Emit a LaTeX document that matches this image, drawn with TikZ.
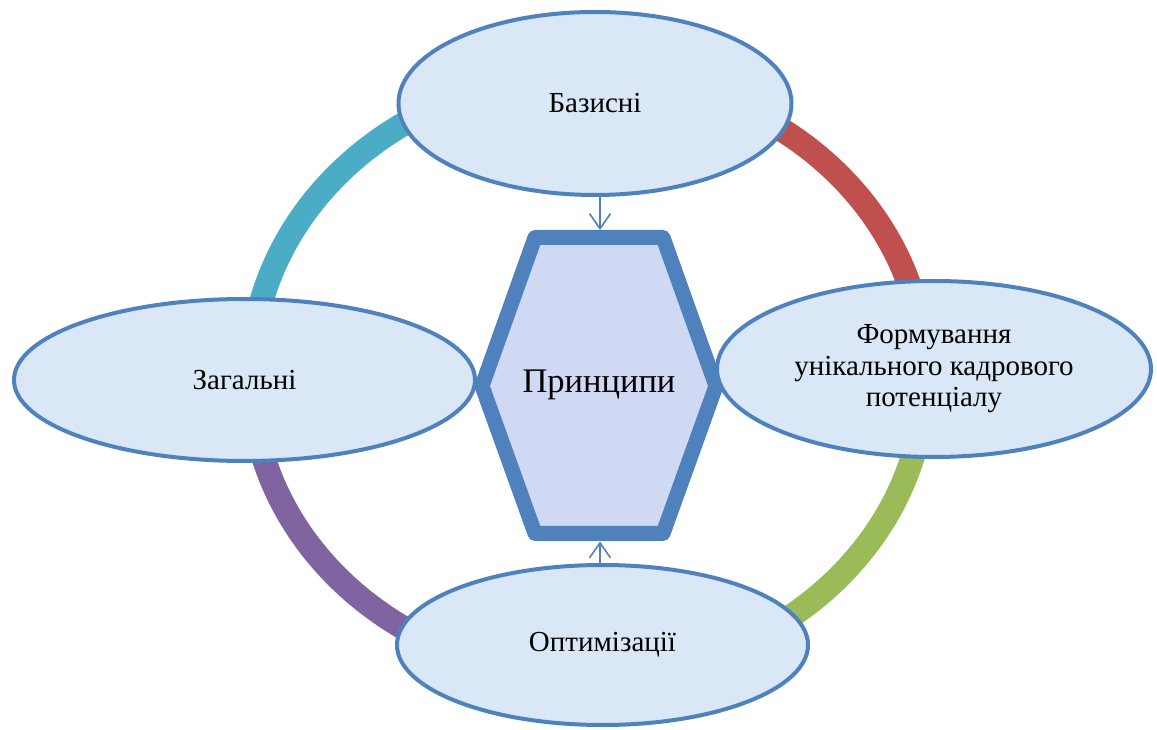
\documentclass[tikz,border=0pt]{standalone}
\usepackage{fontspec}
\setmainfont{Liberation Serif}
\usetikzlibrary{shapes.geometric,arrows.meta}
\definecolor{ringteal}{HTML}{4BACC6}
\definecolor{ringred}{HTML}{C0504D}
\definecolor{ringgreen}{HTML}{9BBB59}
\definecolor{ringpurple}{HTML}{8064A2}
\definecolor{accblue}{HTML}{4F81BD}
\definecolor{ellfill}{HTML}{DAE7F7}
\definecolor{hexfill}{HTML}{CFD9F4}
\tikzset{
  ringarc/.style={line width=24pt},
  oval/.style={ellipse, draw=accblue, line width=4pt, fill=ellfill, inner sep=0pt,
    align=center, font=\fontsize{29}{31.5}\selectfont, text=black},
  hexbox/.style={draw=accblue, line width=15pt, line join=round, fill=hexfill},
  conn/.style={draw=accblue, line width=1.6pt, -{Straight Barb[length=15pt,width=21pt,line width=1.6pt]}}
}
\begin{document}
\begin{tikzpicture}[x=1pt,y=1pt]
\useasboundingbox (0,0) rectangle (1157,729);
% ring
\coordinate (rc) at (588,353);
\draw[ringarc, ringteal]   (rc) ++(90:337pt and 301pt)  arc[start angle=90,  end angle=180, x radius=337pt, y radius=301pt];
\draw[ringarc, ringred]    (rc) ++(0:337pt and 301pt)   arc[start angle=0,   end angle=90,  x radius=337pt, y radius=301pt];
\draw[ringarc, ringgreen]  (rc) ++(-90:337pt and 301pt) arc[start angle=-90, end angle=0,   x radius=337pt, y radius=301pt];
\draw[ringarc, ringpurple] (rc) ++(180:337pt and 301pt) arc[start angle=180, end angle=270, x radius=337pt, y radius=301pt];
% hexagon
\draw[hexbox] (535,491.5) -- (663,491.5) -- (716,343) -- (663,195.5) -- (535,195.5) -- (482,343) -- cycle;
\node[font=\fontsize{34.5}{38}\selectfont] (hex) at (599,344) {Принципи};
\coordinate (hextop) at (600,499);
\coordinate (hexbot) at (600,187.5);
% ellipses
\node[oval, minimum width=393pt, minimum height=183pt] (top) at (595,625.5) {Базисні};
\node[oval, minimum width=461pt, minimum height=162pt] (left) at (244.5,349) {Загальні};
\node[oval, minimum width=434pt, minimum height=176pt] (right) at (934,360) {Формування\\унікального кадрового\\потенціалу};
\node[oval, minimum width=411pt, minimum height=160pt] (bot) at (602.5,84) {Оптимізації};
% connectors
\draw[conn] (top.south -| hextop) -- (hextop);
\draw[conn] (bot.north -| hexbot) -- (hexbot);
\end{tikzpicture}
\end{document}
